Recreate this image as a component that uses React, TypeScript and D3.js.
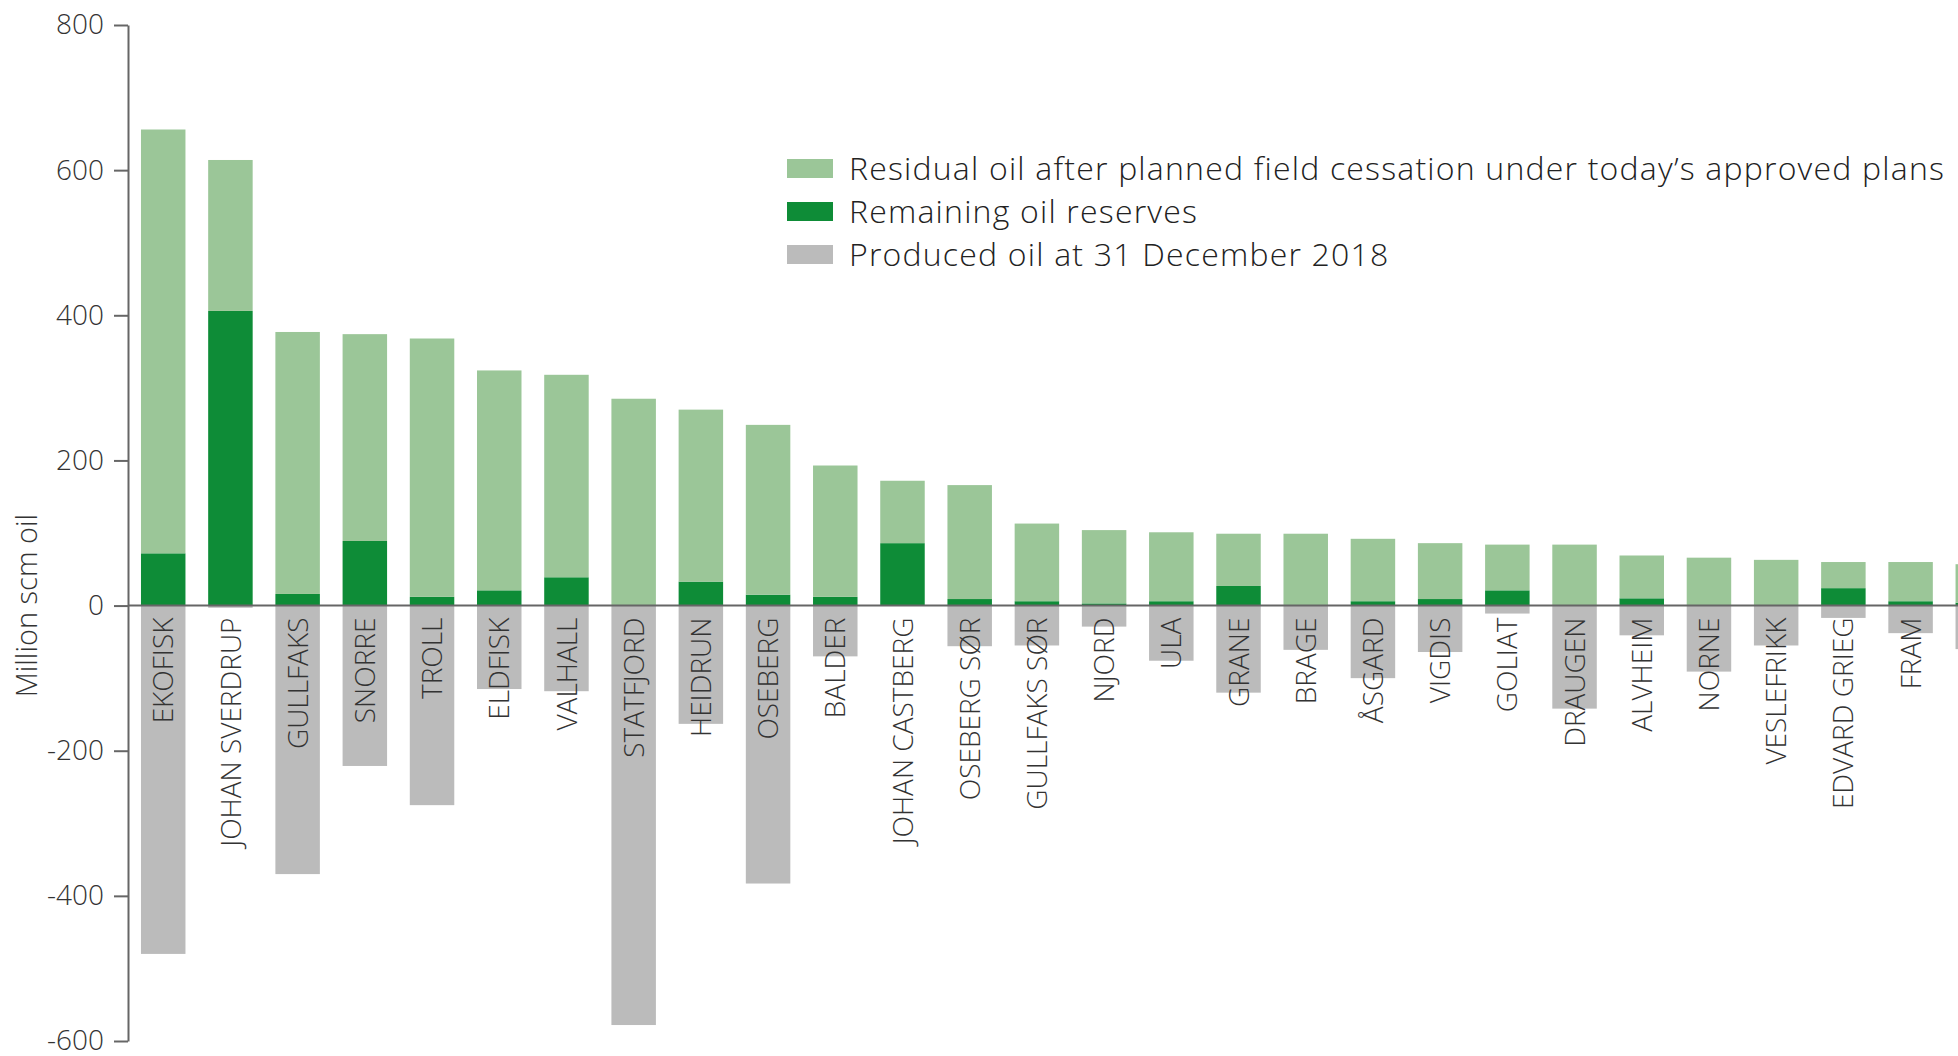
import React, { useEffect, useRef } from 'react';
import * as d3 from 'd3';

const fields = [
  'EKOFISK', 'JOHAN SVERDRUP', 'GULLFAKS', 'SNORRE', 'TROLL', 'ELDFISK', 'VALHALL',
  'STATFJORD', 'HEIDRUN', 'OSEBERG', 'BALDER', 'JOHAN CASTBERG', 'OSEBERG SØR',
  'GULLFAKS SØR', 'NJORD', 'ULA', 'GRANE', 'BRAGE', 'ÅSGARD', 'VIGDIS', 'GOLIAT',
  'DRAUGEN', 'ALVHEIM', 'NORNE', 'VESLEFRIKK', 'EDVARD GRIEG', 'FRAM', 'VISUND',
];

// million scm oil
const remainingReserves = [72, 406, 16, 89, 12, 21, 39, 0, 33, 15, 12, 86, 9, 6, 3, 6, 27, 0, 6, 9, 21, 0, 10, 0, 0, 24, 6, 4];
const residualOil = [584, 208, 361, 285, 356, 303, 279, 285, 237, 234, 181, 86, 157, 107, 101, 95, 72, 99, 86, 77, 63, 84, 59, 66, 63, 36, 54, 53];
const producedOil = [-480, -3, -370, -221, -275, -115, -118, -578, -163, -383, -70, 0, -56, -55, -29, -76, -120, -61, -100, -64, -11, -142, -41, -91, -55, -17, -38, -60];

const yTicks = [-600, -400, -200, 0, 200, 400, 600, 800];

const legendLabels = [
  'Residual oil after planned field cessation under today’s approved plans',
  'Remaining oil reserves',
  'Produced oil at 31 December 2018',
];

const LIGHT_GREEN = '#9bc698';
const DARK_GREEN = '#0e8c37';
const GREY = '#bbbbbb';
const legendColors = [LIGHT_GREEN, DARK_GREEN, GREY];

const FONT = '"Open Sans", "DejaVu Sans", sans-serif';

export default function App() {
  const svgRef = useRef<SVGSVGElement>(null);

  useEffect(() => {
    if (!svgRef.current) return;
    const width = 1958;
    const height = 1056;
    const axisX = 128;

    const svg = d3.select(svgRef.current);
    svg.selectAll('*').remove();
    svg.attr('width', width).attr('height', height);

    const x = d3
      .scaleBand<string>()
      .domain(fields)
      .range([axisX, 2013])
      .paddingInner(0.338)
      .paddingOuter(0.193);

    const y = d3.scaleLinear().domain([-600, 800]).range([1041, 25]);

    const rows = fields.map((name, i) => ({
      name,
      remaining: remainingReserves[i],
      residual: residualOil[i],
      produced: producedOil[i],
    }));

    const bars = svg.append('g');

    // Produced (below zero)
    bars
      .selectAll('.produced')
      .data(rows)
      .enter()
      .append('rect')
      .attr('x', d => x(d.name)!)
      .attr('width', x.bandwidth())
      .attr('y', y(0))
      .attr('height', d => y(d.produced) - y(0))
      .attr('fill', GREY);

    // Remaining reserves
    bars
      .selectAll('.remaining')
      .data(rows)
      .enter()
      .append('rect')
      .attr('x', d => x(d.name)!)
      .attr('width', x.bandwidth())
      .attr('y', d => y(d.remaining))
      .attr('height', d => y(0) - y(d.remaining))
      .attr('fill', DARK_GREEN);

    // Residual oil stacked on top
    bars
      .selectAll('.residual')
      .data(rows)
      .enter()
      .append('rect')
      .attr('x', d => x(d.name)!)
      .attr('width', x.bandwidth())
      .attr('y', d => y(d.remaining + d.residual))
      .attr('height', d => y(d.remaining) - y(d.remaining + d.residual))
      .attr('fill', LIGHT_GREEN);

    // Zero line
    svg
      .append('line')
      .attr('x1', axisX)
      .attr('x2', width)
      .attr('y1', y(0))
      .attr('y2', y(0))
      .attr('stroke', '#666')
      .attr('stroke-width', 2);

    // Y axis
    const yAxis = svg
      .append('g')
      .attr('transform', `translate(${axisX},0)`)
      .call(
        d3
          .axisLeft(y)
          .tickValues(yTicks)
          .tickSize(14)
          .tickSizeOuter(0)
          .tickPadding(10)
          .tickFormat(d => String(d))
      );
    yAxis.select('.domain').attr('stroke', '#666').attr('stroke-width', 2);
    yAxis.selectAll('.tick line').attr('stroke', '#666').attr('stroke-width', 2);
    yAxis
      .selectAll('.tick text')
      .attr('fill', '#333')
      .style('font-family', FONT)
      .style('font-weight', 300)
      .style('font-size', '28px');

    // Field labels (only those whose bar is inside the picture)
    svg
      .append('g')
      .selectAll('text')
      .data(rows.filter(d => x(d.name)! + x.bandwidth() / 2 + 12 < width))
      .enter()
      .append('text')
      .attr('transform', d => `translate(${x(d.name)! + x.bandwidth() / 2},${y(0) + 12}) rotate(-90)`)
      .attr('text-anchor', 'end')
      .attr('dy', '0.36em')
      .attr('fill', '#333')
      .style('font-family', FONT)
      .style('font-weight', 300)
      .style('font-size', '28px')
      .text(d => d.name);

    // Y axis title
    svg
      .append('text')
      .attr('transform', `translate(37,${y(0)}) rotate(-90)`)
      .attr('text-anchor', 'middle')
      .attr('fill', '#333')
      .style('font-family', FONT)
      .style('font-weight', 300)
      .style('font-size', '29px')
      .text('Million scm oil');

    // Legend
    const legend = svg
      .append('g')
      .selectAll('g')
      .data(legendLabels)
      .enter()
      .append('g')
      .attr('transform', (d, i) => `translate(787,${159 + i * 43})`);

    legend
      .append('rect')
      .attr('width', 46)
      .attr('height', 19)
      .attr('fill', (d, i) => legendColors[i]);

    legend
      .append('text')
      .attr('x', 62)
      .attr('y', 21)
      .attr('fill', '#222')
      .style('font-family', FONT)
      .style('font-weight', 300)
      .style('font-size', '32px')
      .style('letter-spacing', '1.2px')
      .text(d => d);
  }, []);

  return (
    <svg
      ref={svgRef}
      style={{ position: 'absolute', left: 0, top: 0, display: 'block', background: '#fff' }}
    />
  );
}
